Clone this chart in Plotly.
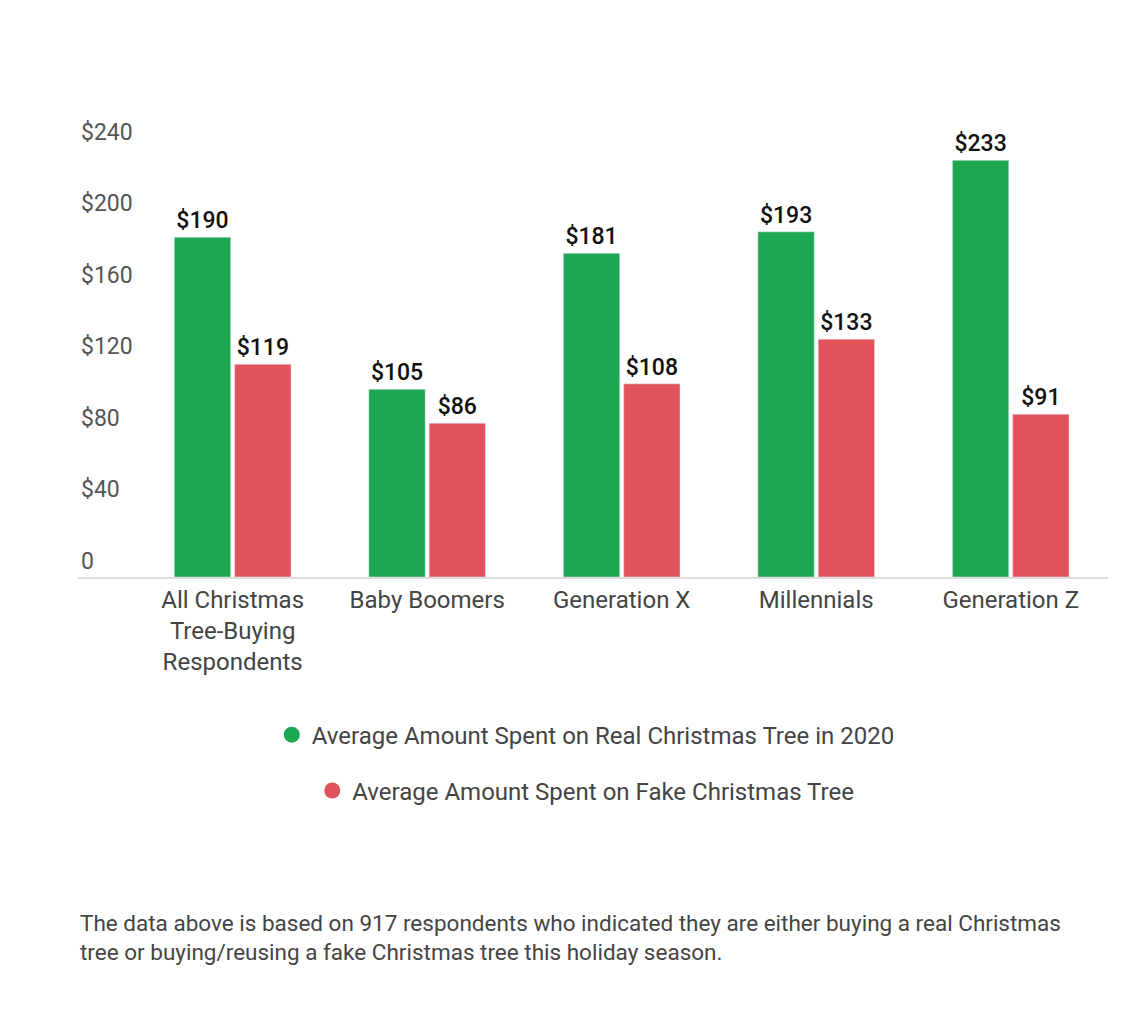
import plotly.graph_objects as go

# chart data
categories = ["All Christmas<br>Tree-Buying<br>Respondents", "Baby Boomers",
              "Generation X", "Millennials", "Generation Z"]
real_tree = [190, 105, 181, 193, 233]
fake_tree = [119, 86, 108, 133, 91]
series_names = ["Average Amount Spent on Real Christmas Tree in 2020",
                "Average Amount Spent on Fake Christmas Tree"]
tick_vals = [0, 40, 80, 120, 160, 200, 240]
tick_text = ["0", "$40", "$80", "$120", "$160", "$200", "$240"]
note = ("The data above is based on 917 respondents who indicated they are either buying a real Christmas<br>"
        "tree or buying/reusing a fake Christmas tree this holiday season.")

GREEN = "#1DA750"
RED = "#E0535A"
FONT = "Roboto"

fig = go.Figure()

for vals, color in [(real_tree, GREEN), (fake_tree, RED)]:
    fig.add_trace(go.Bar(
        x=categories, y=vals,
        marker=dict(color=color),
        text=[f"${v}" for v in vals],
        textposition="outside",
        cliponaxis=False,
        textfont=dict(family=FONT, size=23, color="#111111", weight=500),
        showlegend=False,
        hoverinfo="x+y",
    ))

# legend entries with round markers, one legend per line so each is centered
for name, color, leg in [(series_names[0], GREEN, "legend"), (series_names[1], RED, "legend2")]:
    fig.add_trace(go.Scatter(
        x=[None], y=[None], mode="markers", name=name,
        marker=dict(color=color, size=24, symbol="circle"),
        legend=leg,
    ))

# plot area: 465 px tall for 0..260 (room for the $240 label above its tick)
legend_style = dict(
    orientation="h", xanchor="center", yanchor="middle", x=0.493,
    font=dict(family=FONT, size=24, color="#444444"),
    bgcolor="rgba(0,0,0,0)", itemsizing="trace",
)

fig.update_layout(
    width=1134, height=1012,
    margin=dict(l=70, r=34, t=104, b=443),
    paper_bgcolor="white", plot_bgcolor="white",
    barmode="group", bargap=0.38, bargroupgap=0.065,
    font=dict(family=FONT, color="#444444"),
    xaxis=dict(
        range=[-0.795, 4.5],
        showline=True, linecolor="#dddddd", linewidth=1.5,
        ticks="", tickfont=dict(family=FONT, size=24, color="#444444"),
        showgrid=False, fixedrange=True,
    ),
    yaxis=dict(
        range=[0, 260],
        tickvals=tick_vals, ticktext=tick_text,
        ticklabelposition="inside top",
        tickfont=dict(family=FONT, size=23, color="#555555"),
        showgrid=False, zeroline=False, showline=False, ticks="",
        fixedrange=True,
    ),
    legend=dict(legend_style, y=-0.340),
    legend2=dict(legend_style, y=-0.460),
    annotations=[dict(
        text=note, xref="paper", yref="paper", x=0, y=-0.712,
        xanchor="left", yanchor="top", align="left", showarrow=False,
        font=dict(family=FONT, size=22.5, color="#444444"),
    )],
)

fig.write_html("out.html")
